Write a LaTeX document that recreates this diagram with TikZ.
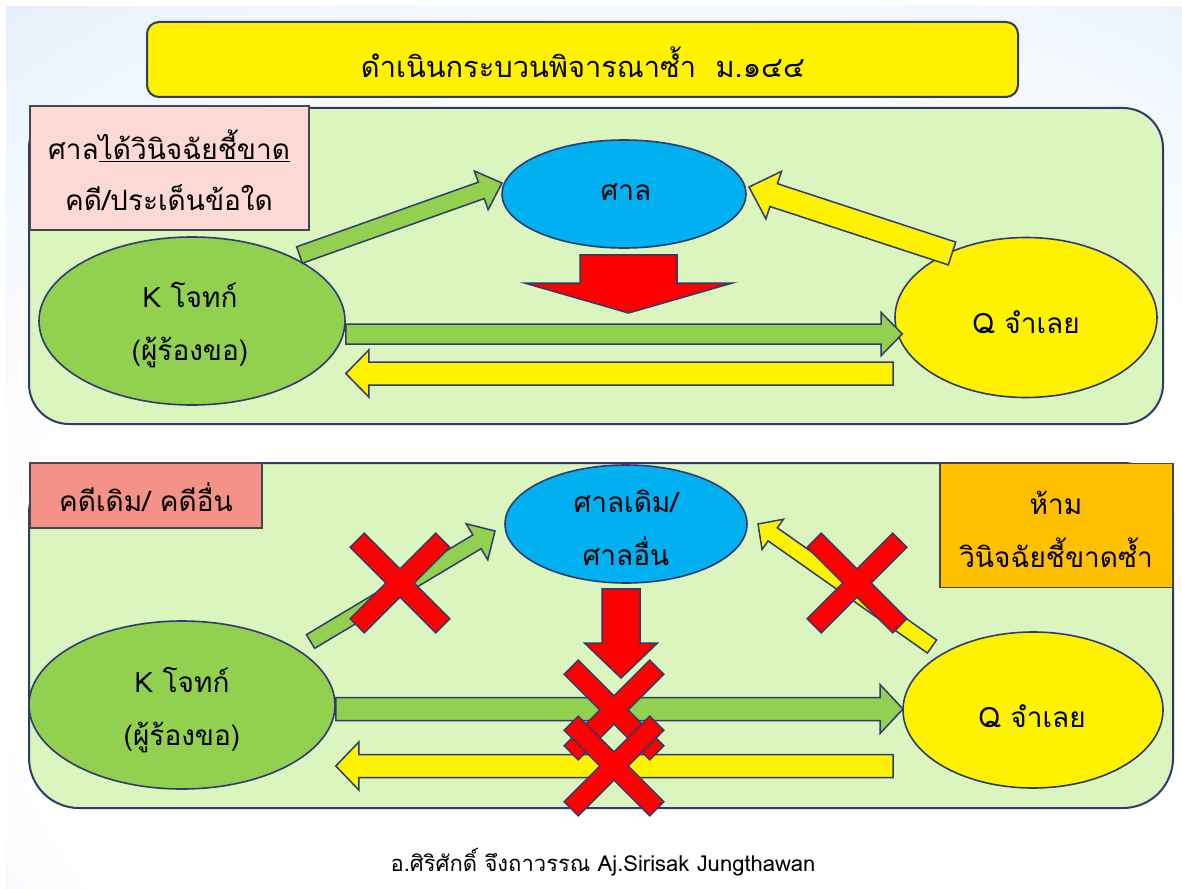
\documentclass[tikz,border=0pt]{standalone}
\usepackage{fontspec}
\setmainfont{Loma}[Script=Thai]
\usetikzlibrary{shapes.geometric,calc}
\definecolor{bgblue}{RGB}{172,208,242}
\definecolor{navy}{RGB}{47,58,110}
\definecolor{panel}{RGB}{218,246,190}
\definecolor{kgreen}{RGB}{146,208,80}
\definecolor{cblue}{RGB}{0,176,240}
\definecolor{pinkbox}{RGB}{252,217,213}
\definecolor{salmon}{RGB}{245,146,136}
\definecolor{orangebox}{RGB}{255,192,0}
\definecolor{boxline}{RGB}{70,70,80}
\pgfdeclareradialshading{bgshade}{\pgfpoint{5bp}{-17bp}}{color(0bp)=(white); color(28bp)=(white); color(75bp)=(bgblue)}
\tikzset{
  ol/.style={draw=navy, line width=1.6pt},
  txt/.style={font=\fontsize{28}{53}\selectfont, align=center, inner sep=0pt},
  ell/.style={ellipse, ol, inner sep=0pt},
  xmark/.style={fill=red, draw=navy, line width=1.4pt, line join=miter},
  barr/.style={draw=navy, line width=1.5pt, line join=miter},
  panelbox/.style={rectangle, draw=navy, line width=2pt, fill=panel, inner sep=0pt},
  labbox/.style={rectangle, draw=boxline, line width=1.5pt, inner sep=0pt},
}
% block arrow: style, from, to, shaft half width, head half width, head length
\newcommand\blockarrow[6]{%
  \coordinate (bas) at (#2);
  \coordinate (bae) at (#3);
  \coordinate (bah) at ($(bae)!#6!(bas)$);
  \draw[barr,#1] ($(bas)!#4!90:(bae)$) -- ($(bah)!#4!-90:(bas)$) -- ($(bah)!#5!-90:(bas)$)
     -- (bae) -- ($(bah)!#5!90:(bas)$) -- ($(bah)!#4!90:(bas)$) -- ($(bas)!#4!-90:(bae)$) -- cycle;
}
% red cross mark at a coordinate
\newcommand\crossmark[1]{%
  \draw[xmark, shift={(#1)}, rotate=45]
    (-10,60.5) -- (10,60.5) -- (10,10) -- (60.5,10) -- (60.5,-10) -- (10,-10) -- (10,-60.5)
    -- (-10,-60.5) -- (-10,-10) -- (-60.5,-10) -- (-60.5,10) -- (-10,10) -- cycle;
}
\begin{document}
\begin{tikzpicture}[x=1pt,y=-1pt]
\useasboundingbox (0,0) rectangle (1182,888);
\fill[white] (0,0) rectangle (1182,888);
\shade[shading=bgshade] (6,7) rectangle (1182,888);

% title
\node[draw=navy, line width=2pt, rounded corners=12pt, fill=yellow, minimum width=871pt, minimum height=75pt, inner sep=0pt] (title) at (582.5,59.5) {};
\node[txt, font=\fontsize{29}{34}\selectfont] (titlet) at (583,62) {ดำเนินกระบวนพิจารณาซ้ำ~~ม.๑๔๔};

% ---------------- top panel
\node[panelbox, rounded corners=40pt, minimum width=1134pt, minimum height=316pt] (panelA) at (596,266) {};
\node[labbox, fill=pinkbox, minimum width=279pt, minimum height=124pt] (pink) at (169.5,168) {};
\node[txt, font=\fontsize{28}{51}\selectfont] (pinkt) at (169,170) {ศาล\underline{ได้วินิจฉัยชี้ขาด}\\คดี/ประเด็นข้อใด};

\node[ell, fill=cblue, minimum width=244pt, minimum height=108pt] (court1) at (624,194) {};
\node[txt] (court1t) at (626,192) {ศาล};
\node[ell, fill=kgreen, minimum width=306pt, minimum height=168pt] (K1) at (192,321) {};
\node[txt] (K1t) at (190,325) {K โจทก์\\(ผู้ร้องขอ)};
\node[ell, fill=yellow, minimum width=262pt, minimum height=160pt] (Q1) at (1026,317.5) {};
\node[txt] (Q1t) at (1026,322) {Q จำเลย};

\coordinate (a1s) at (299.5,255);
\coordinate (a1e) at (502,183);
\coordinate (a2s) at (952,253.5);
\coordinate (a2e) at (749,187);
\coordinate (a5s) at ([yshift=-6]court1.south);
\coordinate (a5e) at (628.5,313);
\blockarrow{fill=kgreen}{a1s}{a1e}{8.7pt}{20.5pt}{22pt}
\blockarrow{fill=yellow}{a2s}{a2e}{12pt}{25pt}{26pt}
\blockarrow{fill=kgreen}{K1.east |- 0,334}{[xshift=8]Q1.west |- 0,334}{10pt}{21.5pt}{21pt}
\blockarrow{fill=yellow}{893,373.5}{K1.east |- 0,373.5}{11.5pt}{23.5pt}{23pt}
\blockarrow{fill=red}{a5s -| a5e}{a5e}{48.5pt}{104pt}{30pt}

% ---------------- bottom panel
\node[panelbox, rounded corners=50pt, minimum width=1144pt, minimum height=345pt] (panelB) at (601,635.5) {};
\node[labbox, fill=salmon, minimum width=232pt, minimum height=65pt] (salmon) at (146,495.5) {};
\node[txt] (salmont) at (146,497) {คดีเดิม/ คดีอื่น};
\node[labbox, fill=orangebox, minimum width=233pt, minimum height=124pt] (orange) at (1056.5,525.5) {};
\node[txt] (oranget) at (1056,529) {ห้าม\\วินิจฉัยชี้ขาดซ้ำ};

\node[ell, fill=cblue, minimum width=242pt, minimum height=118pt] (court2) at (626,524) {};
\node[txt] (court2t) at (626,528) {ศาลเดิม/\\ศาลอื่น};
\node[ell, fill=kgreen, minimum width=306pt, minimum height=168pt] (K2) at (182,705) {};
\node[txt] (K2t) at (182,710) {K โจทก์\\(ผู้ร้องขอ)};
\node[ell, fill=yellow, minimum width=260pt, minimum height=156pt] (Q2) at (1033,710) {};
\node[txt] (Q2t) at (1032,716) {Q จำเลย};

\coordinate (b1s) at (310.5,641.5);
\coordinate (b1e) at (495,531);
\coordinate (b2s) at (932,646.5);
\coordinate (b2e) at (758,524);
\coordinate (b5e) at (621,678);
\blockarrow{fill=kgreen}{b1s}{b1e}{8pt}{21pt}{21pt}
\blockarrow{fill=yellow}{b2s}{b2e}{8pt}{18.5pt}{18pt}
\blockarrow{fill=kgreen}{K2.east |- 0,709}{903,709}{11.5pt}{24.5pt}{23pt}
\blockarrow{fill=yellow}{893,766}{K2.east |- 0,766}{11.5pt}{24pt}{23pt}
\blockarrow{fill=red}{[yshift=-5]court2.south -| b5e}{b5e}{19pt}{36.5pt}{35pt}

\coordinate (x1) at (400,583);
\coordinate (x2) at (857,583);
\coordinate (x3) at (614,710);
\coordinate (x4) at (614,766);
\crossmark{x1}
\crossmark{x2}
\crossmark{x3}
\crossmark{x4}

% footer
\node[font=\fontsize{22}{26}\selectfont, inner sep=0pt] (footer) at (603,862) {อ.ศิริศักดิ์ จึงถาวรรณ Aj.Sirisak Jungthawan};
\end{tikzpicture}
\end{document}
